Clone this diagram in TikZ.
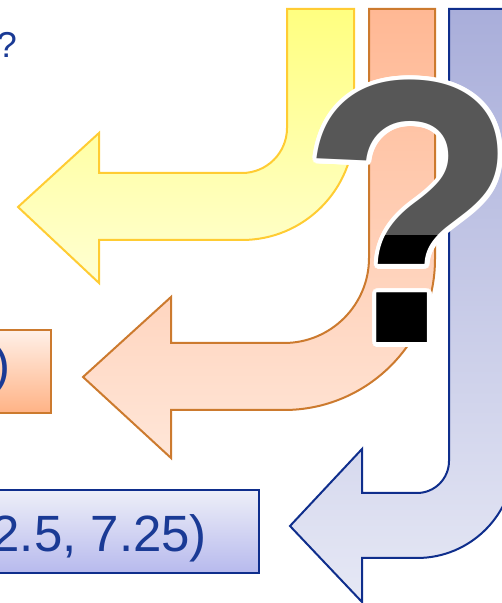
\documentclass[tikz,border=0pt]{standalone}
\usepackage{fontspec}
\setmainfont{Liberation Sans}
\definecolor{ylwtop}{HTML}{FFFF80}
\definecolor{ylwbot}{HTML}{FFFFD2}
\definecolor{ylwline}{HTML}{FFCC33}
\definecolor{orgtop}{HTML}{FFB894}
\definecolor{orgbot}{HTML}{FFE6D8}
\definecolor{orgline}{HTML}{CC7A2E}
\definecolor{blutop}{HTML}{A9AEDA}
\definecolor{blubot}{HTML}{E6E8F5}
\definecolor{bluline}{HTML}{0F2E8C}
\definecolor{txtblue}{HTML}{1A3A95}
\definecolor{qgray}{HTML}{575757}
\newcommand{\bigqm}{\scalebox{0.95}[1]{\fontsize{376}{376}\selectfont\bfseries ?}}
\begin{document}
\begin{tikzpicture}[x=1pt,y=1pt,line join=miter,
  yarrow/.style={draw=ylwline,line width=2pt,top color=ylwtop,bottom color=ylwbot},
  oarrow/.style={draw=orgline,line width=2pt,top color=orgtop,bottom color=orgbot},
  barrow/.style={draw=bluline,line width=2pt,top color=blutop,bottom color=blubot},
  lbl/.style={text=txtblue,font=\fontsize{51}{51}\selectfont,line width=2pt,minimum height=83pt,inner ysep=0pt,text depth=0pt},
  obox/.style={lbl,draw=orgline,top color=orgbot!60!white,bottom color=orgtop!90!orange},
  bbox/.style={lbl,draw=bluline,top color=blubot!70!white,bottom color=blutop!80!blue!60!white},
  qmark/.style={inner sep=0pt,anchor=base}
]
\useasboundingbox (0,0) rectangle (502,603);
% yellow bent arrow
\path[yarrow] (287,594) -- (287,475) arc[start angle=0,end angle=-90,radius=45pt]
  -- (99,430) -- (99,470) -- (18,396) -- (99,320) -- (99,363) -- (242,363)
  arc[start angle=-90,end angle=0,radius=112pt] -- (354,594) -- cycle;
% orange bent arrow
\path[oarrow] (369,594) -- (369,345) arc[start angle=0,end angle=-90,radius=85pt]
  -- (171,260) -- (171,306) -- (83,226) -- (171,145) -- (171,193) -- (284,193)
  arc[start angle=-90,end angle=0,radius=151pt] -- (435,594) -- cycle;
% blue bent arrow
\path[barrow] (449,594) -- (449,142) arc[start angle=0,end angle=-90,radius=32pt]
  -- (362,110) -- (362,154) -- (290,77) -- (362,1) -- (362,45) -- (417,45)
  arc[start angle=-90,end angle=0,radius=97pt] -- (514,594) -- cycle;
% boxes
\node[obox,anchor=east,inner xsep=41pt,text height=23pt] (obx) at (52,231.5) {)};
\node[bbox,anchor=east,inner xsep=52pt,text height=41pt] (bbx) at (260,71.5) {2.5, 7.25)};
% small question mark at top left
\node[text=txtblue,font=\fontsize{36}{36}\selectfont,inner sep=0pt,anchor=base east] (tq) at (17,545) {?};
% big question mark with white outline
\foreach \a in {0,15,...,345}{
  \begin{scope}[shift={(\a:4.5)}]
    \node[qmark,text=white] (qw\a) at (410,260) {\bigqm};
  \end{scope}
}
\node[qmark,text=qgray] (bigq) at (410,260) {\bigqm};
\begin{scope}
  \clip (290,0) rectangle (502,367);
  \node[qmark,text=black] (bigqb) at (410,260) {\bigqm};
\end{scope}
\end{tikzpicture}
\end{document}
